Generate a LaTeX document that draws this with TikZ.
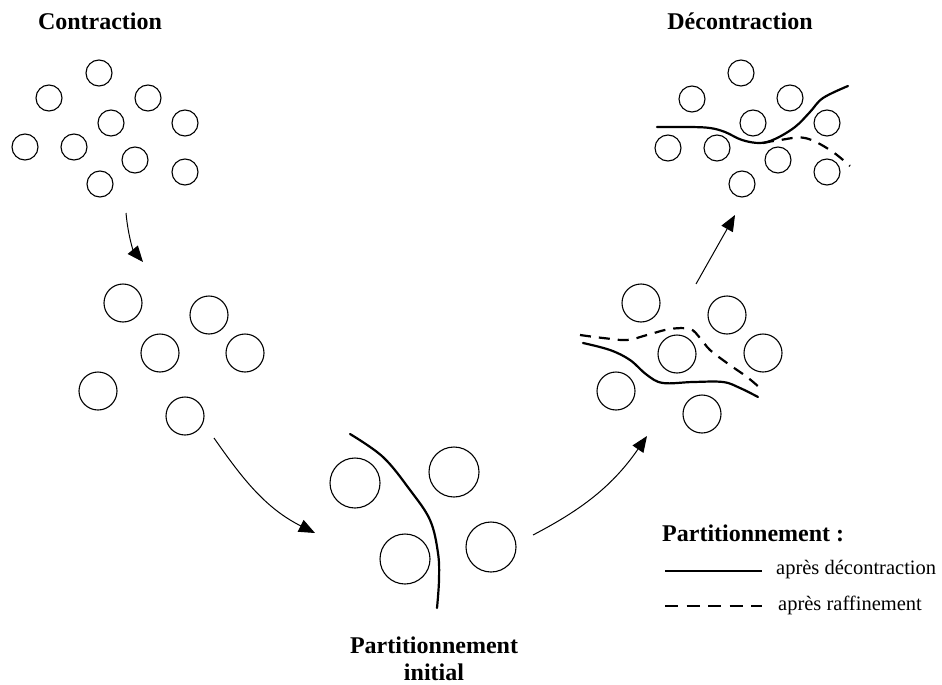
\documentclass[tikz,border=0pt]{standalone}
\usepackage{fontspec}
\setmainfont{Liberation Serif}
\usetikzlibrary{arrows.meta}

\begin{document}
\begin{tikzpicture}[
    x=1pt, y=-1pt,
    grain/.style={circle, draw, line width=1.1pt, inner sep=0pt},
    small/.style={grain, minimum size=26pt},
    medium/.style={grain, minimum size=38pt},
    large/.style={grain, minimum size=50pt},
    arrow/.style={-{Triangle[length=16pt, width=13pt]}, line width=1pt},
    cut/.style={line width=2.2pt, line cap=round},
    refined/.style={line width=2.2pt, dash pattern=on 11pt off 8pt},
    title/.style={font=\bfseries\fontsize{24}{27}\selectfont, align=center, inner sep=0pt},
    legend/.style={font=\fontsize{20.5}{24}\selectfont, anchor=base west, inner sep=0pt}
]
    \useasboundingbox (0,0) rectangle (942,685);

    % Contraction
    \node[title, anchor=base] (tctr) at (100,30) {Contraction};
    \node[small] (ctr1) at (99,73) {};
    \node[small] (ctr2) at (49,98) {};
    \node[small] (ctr3) at (148,98) {};
    \node[small] (ctr4) at (111,123) {};
    \node[small] (ctr5) at (185,123) {};
    \node[small] (ctr6) at (25,147) {};
    \node[small] (ctr7) at (74,147) {};
    \node[small] (ctr8) at (135,160) {};
    \node[small] (ctr9) at (185,172) {};
    \node[small] (ctr10) at (100,184) {};

    % Contracted graph
    \node[medium] (mid1) at (123,303) {};
    \node[medium] (mid2) at (209,315) {};
    \node[medium] (mid3) at (160,353) {};
    \node[medium] (mid4) at (245,353) {};
    \node[medium] (mid5) at (98,391) {};
    \node[medium] (mid6) at (185,416) {};

    % Initial partitioning
    \node[large] (init1) at (355,483) {};
    \node[large] (init2) at (454,472) {};
    \node[large] (init3) at (405,559) {};
    \node[large] (init4) at (491,547) {};
    \draw[cut] plot[smooth, tension=0.6] coordinates {(350,434) (383,457) (410,490) (430,520) (438,553) (439,580) (437,608)};
    \node[title] (tinit) at (434,658.5) {Partitionnement\\initial};

    % Uncontraction, first level
    \node[medium] (ref1) at (641,303) {};
    \node[medium] (ref2) at (727,315) {};
    \node[medium] (ref3) at (677,354) {};
    \node[medium] (ref4) at (763,353) {};
    \node[medium] (ref5) at (616,391) {};
    \node[medium] (ref6) at (702,414) {};
    \draw[cut] plot[smooth, tension=0.6] coordinates {(583,343) (610,350) (630,360) (647,375) (663,383) (693,382) (723,382) (740,388) (758,397)};
    \draw[refined] plot[smooth, tension=0.6] coordinates {(580,335) (603,338) (627,340) (647,335) (670,329) (690,329) (700,338) (710,350) (727,363) (747,377) (760,388)};

    % Decontraction
    \node[title, anchor=base] (tdec) at (740,30) {Décontraction};
    \node[small] (dec1) at (741,73) {};
    \node[small] (dec2) at (692,99) {};
    \node[small] (dec3) at (790,98) {};
    \node[small] (dec4) at (753,123) {};
    \node[small] (dec5) at (827,123) {};
    \node[small] (dec6) at (668,148) {};
    \node[small] (dec7) at (717,148) {};
    \node[small] (dec8) at (778,160) {};
    \node[small] (dec9) at (827,172) {};
    \node[small] (dec10) at (742,184) {};
    \draw[cut] plot[smooth, tension=0.6] coordinates {(657,127) (690,127) (710,128) (725,132) (742,140) (760,143) (775,139) (795,127) (810,112) (823,98) (848,86)};
    \draw[refined] plot[smooth, tension=0.6] coordinates {(763,143) (780,140) (805,138) (830,150) (850,166)};

    % Arrows
    \coordinate (a1s) at (126,213);
    \coordinate (a1e) at (143,262);
    \coordinate (a2s) at (214,438);
    \coordinate (a2e) at (315,533);
    \coordinate (a3s) at (533,535);
    \coordinate (a3e) at (647,436);
    \coordinate (a4s) at (696,284);
    \coordinate (a4e) at (735,215);
    \draw[arrow] (a1s) .. controls (128,235) and (133,250) .. (a1e);
    \draw[arrow] (a2s) .. controls (242,478) and (265,508) .. (a2e);
    \draw[arrow] (a3s) .. controls (575,513) and (610,490) .. (a3e);
    \draw[arrow] (a4s) -- (a4e);

    % Legend
    \node[legend, font=\bfseries\fontsize{24}{27}\selectfont] (lgd) at (662,541) {Partitionnement :};
    \coordinate (l1s) at (665,571);
    \coordinate (l1e) at (762,571);
    \coordinate (l2s) at (665,606);
    \coordinate (l2e) at (762,606);
    \draw[line width=1.8pt] (l1s) -- (l1e);
    \draw[line width=1.8pt, dash pattern=on 13pt off 8.5pt] (l2s) -- (l2e);
    \node[legend] (lsol) at (776,574) {après décontraction};
    \node[legend] (ldsh) at (778,610) {après raffinement};
\end{tikzpicture}
\end{document}
